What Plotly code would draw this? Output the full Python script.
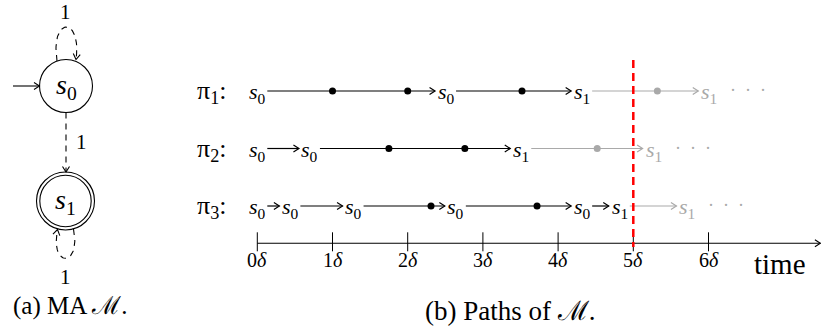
import plotly.graph_objects as go

# ---------------- data ----------------
# (a) the Markov automaton
ma_states = ["s0", "s1"]
ma_initial = "s0"
ma_accepting = ["s1"]
ma_transitions = [("s0", "s0", "1"), ("s0", "s1", "1"), ("s1", "s1", "1")]

# (b) paths of the automaton, times in units of delta
path_labels = ["π1", "π2", "π3"]
pi1_states = ["s0", "s0", "s1", "s1"]
pi1_times = [0.0, 2.51, 4.32, 6.01]
pi1_dots = [1.0, 2.0, 3.52, 5.32]
pi2_states = ["s0", "s0", "s1", "s1"]
pi2_times = [0.0, 0.70, 3.51, 5.27]
pi2_dots = [1.75, 2.76, 4.52]
pi3_states = ["s0", "s0", "s0", "s0", "s0", "s1", "s1"]
pi3_times = [0.0, 0.44, 1.28, 2.64, 4.32, 4.82, 5.72]
pi3_dots = [2.31, 3.72]
tick_values = [0, 1, 2, 3, 4, 5, 6]
tick_labels = ["0δ", "1δ", "2δ", "3δ", "4δ", "5δ", "6δ"]
cutoff_time = 5
axis_title = "time"
caption_a = "(a) MA ℳ."
caption_b = "(b) Paths of ℳ."

# ---------------- layout constants ----------------
W, H = 821, 331
FONT = "Liberation Serif"
BLACK, GRAY, RED = "#000000", "#a9a9a9", "#ff0000"
PX_PER_DELTA = 75.2
X0_PX = 257.3
ROW0_PX, ROW_STEP_PX = 91.0, 57.5


def row_of(px):
    return 1 + (px - ROW0_PX) / ROW_STEP_PX


def dx(px):
    return px / PX_PER_DELTA


def dy(px):
    return px / ROW_STEP_PX


x_range = [-X0_PX / PX_PER_DELTA, (W - X0_PX) / PX_PER_DELTA]
y_range = [row_of(H), row_of(0)]


def state_html(s):
    return f"<i>{s[0]}</i><sub>{s[1:]}</sub>"


fig = go.Figure()
ann = []

# ---------------- (b) paths ----------------
paths = [(pi1_states, pi1_times, pi1_dots),
         (pi2_states, pi2_times, pi2_dots),
         (pi3_states, pi3_times, pi3_dots)]
LHW = dx(10)
seg = {BLACK: ([], []), GRAY: ([], [])}
for r, (states, times, dots) in enumerate(paths, start=1):
    first_s1 = states.index("s1")
    for i in range(len(states) - 1):
        col = GRAY if i >= first_s1 else BLACK
        xs, ys = seg[col]
        xa = times[i] + LHW
        xb = times[i + 1] - LHW - dx(1)
        xs += [xa, xb, None, xb - dx(5.5), xb, xb - dx(5.5), None]
        ys += [r, r, None, r - dy(3.5), r, r + dy(3.5), None]
    for i, (s, t) in enumerate(zip(states, times)):
        col = GRAY if i > first_s1 else BLACK
        ann.append(dict(x=t, y=r, xref="x", yref="y", text=state_html(s),
                        showarrow=False, xanchor="center", yanchor="middle",
                        yshift=-2, font=dict(family=FONT, size=22, color=col)))
    ann.append(dict(x=times[-1] + LHW + dx(9), y=r, xref="x", yref="y",
                    text="·  ·  ·", showarrow=False, xanchor="left",
                    yanchor="middle", yshift=1,
                    font=dict(family=FONT, size=18, color=GRAY)))
    dcol = [GRAY if t > times[first_s1] else BLACK for t in dots]
    fig.add_trace(go.Scatter(x=dots, y=[r] * len(dots), mode="markers",
                             marker=dict(size=7, color=dcol),
                             hoverinfo="skip"))
    lab = path_labels[r - 1]
    ann.append(dict(x=-dx(62), y=r, xref="x", yref="y",
                    text=f"{lab[0]}<sub>{lab[1:]}</sub>:", showarrow=False,
                    xanchor="left", yanchor="middle", yshift=-1,
                    font=dict(family=FONT, size=26, color=BLACK)))

for col in (GRAY, BLACK):
    xs, ys = seg[col]
    fig.add_trace(go.Scatter(x=xs, y=ys, mode="lines",
                             line=dict(color=col, width=1.2),
                             hoverinfo="skip"))

# time axis
ya = row_of(243.3)
xe = x_range[1] - dx(0.6)
fig.add_trace(go.Scatter(
    x=[0, xe, None, xe - dx(5.5), xe, xe - dx(5.5)],
    y=[ya, ya, None, ya - dy(3.5), ya, ya + dy(3.5)],
    mode="lines", line=dict(color=BLACK, width=1.1), hoverinfo="skip"))
tx, ty = [], []
for v in tick_values:
    tx += [v, v, None]
    ty += [ya - dy(11), ya + dy(8), None]
fig.add_trace(go.Scatter(x=tx, y=ty, mode="lines",
                         line=dict(color=BLACK, width=1.0), hoverinfo="skip"))
for v, lbl in zip(tick_values, tick_labels):
    ann.append(dict(x=v, y=row_of(260), xref="x", yref="y",
                    text=f"{lbl[:-1]}<i>{lbl[-1]}</i>", showarrow=False,
                    xanchor="center", yanchor="middle",
                    font=dict(family=FONT, size=20, color=BLACK)))
ann.append(dict(x=x_range[0] + dx(779.5), y=row_of(264), xref="x", yref="y",
                text=axis_title, showarrow=False, xanchor="center",
                yanchor="middle", font=dict(family=FONT, size=29, color=BLACK)))

# cutoff line
fig.add_trace(go.Scatter(x=[cutoff_time, cutoff_time],
                         y=[row_of(60), row_of(247)], mode="lines",
                         line=dict(color=RED, width=2.5, dash="8px,5px"),
                         hoverinfo="skip"))

# ---------------- (a) automaton (pixel-like axes x2/y2) ----------------
node_pos = {"s0": (66.0, 86.0), "s1": (65.5, 201.0)}
R_NODE, R_OUT, R_IN = 26.5, 29.0, 25.7
shapes = []
for s in ma_states:
    cx, cy = node_pos[s]
    radii = [R_OUT, R_IN] if s in ma_accepting else [R_NODE]
    for rr in radii:
        shapes.append(dict(type="circle", xref="x2", yref="y2",
                           x0=cx - rr, x1=cx + rr, y0=cy - rr, y1=cy + rr,
                           line=dict(color=BLACK, width=1.1)))
    ann.append(dict(x=cx, y=cy, xref="x2", yref="y2", text=state_html(s),
                    showarrow=False, xanchor="center", yanchor="middle",
                    font=dict(family=FONT, size=28, color=BLACK)))


def chevron(tip, u, L=5.5, Wd=3.5):
    ux, uy = u
    n = (ux * ux + uy * uy) ** 0.5
    ux, uy = ux / n, uy / n
    px_, py_ = -uy, ux
    bx, by = tip[0] - L * ux, tip[1] - L * uy
    return ([bx + Wd * px_, tip[0], bx - Wd * px_, None],
            [by + Wd * py_, tip[1], by - Wd * py_, None])


def bezier(p0, p1, p2, p3, n=40):
    xs, ys = [], []
    for k in range(n + 1):
        t = k / n
        a, b, c, d = (1 - t) ** 3, 3 * (1 - t) ** 2 * t, 3 * (1 - t) * t ** 2, t ** 3
        xs.append(a * p0[0] + b * p1[0] + c * p2[0] + d * p3[0])
        ys.append(a * p0[1] + b * p1[1] + c * p2[1] + d * p3[1])
    return xs, ys


dash_x, dash_y, solid_x, solid_y = [], [], [], []
for src, dst, lbl in ma_transitions:
    sx, sy = node_pos[src]
    if src == dst:
        if src == ma_initial:  # loop above
            p0, p1, p2, p3 = (sx - 9, sy - 25), (sx - 16, sy - 70), (sx + 16, sy - 70), (sx + 10, sy - 26.5)
            lx, ly = sx - 1, sy - 74
        else:  # loop below
            p0, p1, p2, p3 = (sx + 8, sy + 28), (sx + 16, sy + 67), (sx - 16, sy + 67), (sx - 8, sy + 28.5)
            lx, ly = sx, sy + 76
        bx_, by_ = bezier(p0, p1, p2, p3)
        dash_x += bx_ + [None]
        dash_y += by_ + [None]
        cxs, cys = chevron(p3, (p3[0] - p2[0], p3[1] - p2[1]))
        solid_x += cxs
        solid_y += cys
    else:
        ex, ey = node_pos[dst]
        r1 = R_OUT if dst in ma_accepting else R_NODE
        start = (sx, sy + R_NODE)
        tip = (ex + 0.5, ey - r1)
        dash_x += [start[0], tip[0], None]
        dash_y += [start[1], tip[1], None]
        cxs, cys = chevron(tip, (tip[0] - start[0], tip[1] - start[1]))
        solid_x += cxs
        solid_y += cys
        lx, ly = (sx + ex) / 2 + 16, (start[1] + tip[1]) / 2
    ann.append(dict(x=lx, y=ly, xref="x2", yref="y2", text=lbl, showarrow=False,
                    xanchor="center", yanchor="middle",
                    font=dict(family=FONT, size=21, color=BLACK)))

# initial arrow
ix, iy = node_pos[ma_initial]
solid_x += [13, ix - R_NODE, None]
solid_y += [iy, iy, None]
cxs, cys = chevron((ix - R_NODE, iy), (1, 0))
solid_x += cxs
solid_y += cys

fig.add_trace(go.Scatter(x=dash_x, y=dash_y, xaxis="x2", yaxis="y2",
                         mode="lines", line=dict(color=BLACK, width=1.1, dash="6px,5px"),
                         hoverinfo="skip"))
fig.add_trace(go.Scatter(x=solid_x, y=solid_y, xaxis="x2", yaxis="y2",
                         mode="lines", line=dict(color=BLACK, width=1.1),
                         hoverinfo="skip"))

# captions
ann.append(dict(x=70, y=306, xref="x2", yref="y2", text=caption_a,
                showarrow=False, xanchor="center", yanchor="middle",
                font=dict(family=FONT, size=25, color=BLACK)))
ann.append(dict(x=510, y=311, xref="x2", yref="y2", text=caption_b,
                showarrow=False, xanchor="center", yanchor="middle",
                font=dict(family=FONT, size=27, color=BLACK)))

fig.update_layout(
    width=W, height=H, margin=dict(l=0, r=0, t=0, b=0),
    paper_bgcolor="white", plot_bgcolor="white", showlegend=False,
    xaxis=dict(range=x_range, visible=False, fixedrange=True, domain=[0, 1]),
    yaxis=dict(range=y_range, visible=False, fixedrange=True, domain=[0, 1]),
    xaxis2=dict(range=[0, W], visible=False, fixedrange=True, overlaying="x",
                anchor="y2"),
    yaxis2=dict(range=[H, 0], visible=False, fixedrange=True, overlaying="y",
                anchor="x2"),
    shapes=shapes, annotations=ann,
)

fig.write_html("out.html")
